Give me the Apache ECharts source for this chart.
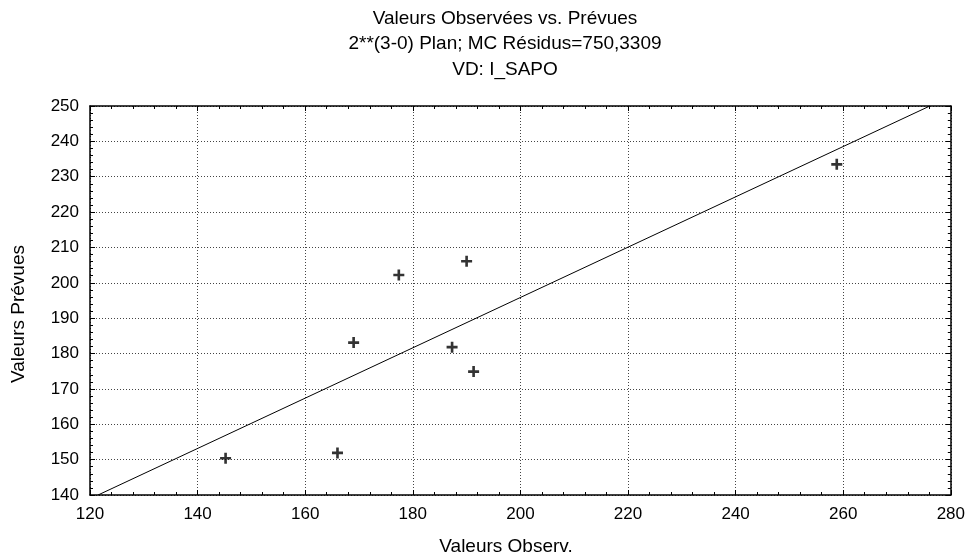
<!DOCTYPE html>
<html><head><meta charset="utf-8">
<script src="https://cdn.jsdelivr.net/npm/echarts@6/dist/echarts.min.js"></script>
<style>html,body{margin:0;padding:0;background:#fff}#c{width:968px;height:560px}</style>
</head><body><div id="c"></div>
<script>
var observed = [145.2, 166.0, 169.0, 177.4, 187.3, 190.0, 191.3, 258.8];
var predicted = [150.4, 151.9, 183.1, 202.2, 181.8, 206.1, 174.9, 233.5];
var fitLineX = [121.5, 276.1];
var fitLineY = [140, 250];
var titleLines = ['Valeurs Observées vs. Prévues', '2**(3-0) Plan; MC Résidus=750,3309', 'VD: I_SAPO'];
var xName = 'Valeurs Observ.';
var yName = 'Valeurs Prévues';

var pts = observed.map(function(v,i){return [v, predicted[i]];});
var linePts = fitLineX.map(function(v,i){return [v, fitLineY[i]];});
var FONT = 'Liberation Sans, Arial, sans-serif';
var plus = 'path://M3.8,0H6.2V3.8H10V6.2H6.2V10H3.8V6.2H0V3.8H3.8Z';

function ax(pos, showLbl, showSplit, min, max, interval, margin){
  return {
    type:'value', position:pos, min:min, max:max, interval:interval,
    axisLine:{show:true, onZero:false, lineStyle:{color:'#000', width:1.5}},
    axisTick:{show:true, inside:true, length:5, lineStyle:{color:'#000'}},
    minorTick:{show:true, splitNumber:5, length:3, lineStyle:{color:'#000'}},
    axisLabel:{show:showLbl, color:'#000', fontSize:17, fontFamily:FONT, margin:margin},
    splitLine:{show:showSplit, lineStyle:{color:'#444', type:[1,2], width:1}}
  };
}
var chart = echarts.init(document.getElementById('c'), null, {renderer:'canvas'});
chart.setOption({
  animation:false,
  title:{text:titleLines.join('\n'), left:500, top:1, textAlign:'center',
    textStyle:{fontSize:19, fontWeight:'normal', color:'#000', fontFamily:FONT, lineHeight:25.5}},
  grid:{left:90, right:16, top:106, bottom:65},
  xAxis:[ax('bottom', true, true, 120, 280, 20, 11), ax('top', false, false, 120, 280, 20, 8)],
  yAxis:[ax('left', true, true, 140, 250, 10, 11), ax('right', false, false, 140, 250, 10, 8)],
  graphic:[
    {type:'text', x:506, y:547, style:{text:xName, font:'19px '+FONT, fill:'#000', align:'center', verticalAlign:'middle'}},
    {type:'text', rotation:Math.PI/2, x:19, y:314, style:{text:yName, font:'19px '+FONT, fill:'#000', align:'center', verticalAlign:'middle'}}
  ],
  series:[
    {type:'line', data:linePts, xAxisIndex:0, yAxisIndex:0, symbol:'none', clip:true,
      lineStyle:{color:'#000', width:1}},
    {type:'scatter', data:pts, xAxisIndex:0, yAxisIndex:0, symbol:plus, symbolSize:11,
      itemStyle:{color:'#000'}}
  ]
});
</script></body></html>
